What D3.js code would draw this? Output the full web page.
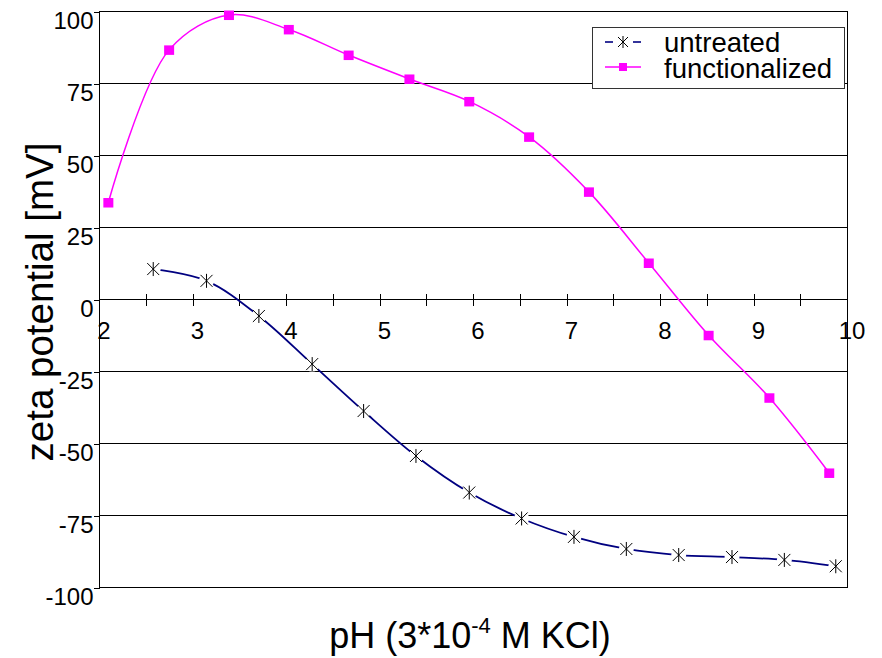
<!DOCTYPE html>
<html>
<head>
<meta charset="utf-8">
<script src="https://cdn.jsdelivr.net/npm/d3@7"></script>
<style>
  html, body { margin: 0; padding: 0; background: #fff; }
  svg { display: block; font-family: "Liberation Sans", Arial, sans-serif; }
</style>
</head>
<body>
<svg id="chart" width="882" height="658"></svg>
<script>
// ---- data ----
const untreatedPH = [2.58, 3.15, 3.71, 4.28, 4.83, 5.39, 5.96, 6.52, 7.08, 7.64, 8.20, 8.77, 9.33, 9.88];
const untreatedZeta = [10.4, 6.3, -5.9, -22.6, -38.9, -54.5, -67.2, -76.2, -82.6, -86.8, -88.9, -89.6, -90.6, -92.8];
const functionalizedPH = [2.10, 2.75, 3.39, 4.03, 4.67, 5.32, 5.96, 6.60, 7.24, 7.88, 8.52, 9.17, 9.81];
const functionalizedZeta = [33.5, 86.5, 98.6, 93.6, 84.7, 76.4, 68.6, 56.3, 37.2, 12.5, -12.6, -34.3, -60.4];
const xTicks = [2, 3, 4, 5, 6, 7, 8, 9, 10];
const xMinorTicks = [2.5, 3, 3.5, 4, 4.5, 5, 5.5, 6, 6.5, 7, 7.5, 8, 8.5, 9, 9.5, 10];
const yTicks = [-100, -75, -50, -25, 0, 25, 50, 75, 100];
const seriesNames = ["untreated", "functionalized"];

// ---- layout ----
const svg = d3.select("#chart");
const L = 99, R = 847, T = 11, B = 587;
const x = d3.scaleLinear().domain([2, 10]).range([L, R]);
const y = d3.scaleLinear().domain([-100, 100]).range([B, T]);
const crisp = v => Math.round(v) + 0.5;

// gridlines
svg.append("g").selectAll("line").data(yTicks.filter(d => d !== -100 && d !== 0)).join("line")
  .attr("x1", L).attr("x2", R).attr("y1", d => crisp(y(d))).attr("y2", d => crisp(y(d)))
  .attr("stroke", "#000").attr("stroke-width", 1).attr("shape-rendering", "crispEdges");

// frame
svg.append("rect").attr("x", crisp(L)).attr("y", crisp(T)).attr("width", Math.round(R - L)).attr("height", Math.round(B - T))
  .attr("fill", "none").attr("stroke", "#000").attr("stroke-width", 1.2).attr("shape-rendering", "crispEdges");

// y axis ticks + labels
const yAxis = d3.axisLeft(y).tickValues(yTicks).tickSize(6).tickFormat(d => String(d));
const gy = svg.append("g").attr("transform", `translate(${crisp(L)},0.5)`).call(yAxis);
gy.select(".domain").remove();
gy.attr("font-family", null).attr("font-size", null);
gy.selectAll(".tick line").attr("stroke", "#000").attr("shape-rendering", "crispEdges");
gy.selectAll(".tick text").attr("font-size", 24).attr("fill", "#000")
  .attr("x", -6).attr("dy", null).attr("y", 17);

// x axis at y=0 with crossing ticks
const zeroY = crisp(y(0));
svg.append("line").attr("x1", L).attr("x2", R).attr("y1", zeroY).attr("y2", zeroY)
  .attr("stroke", "#000").attr("stroke-width", 1.2).attr("shape-rendering", "crispEdges");
svg.append("g").selectAll("line").data(xMinorTicks).join("line")
  .attr("x1", d => crisp(x(d))).attr("x2", d => crisp(x(d)))
  .attr("y1", zeroY - 6).attr("y2", zeroY + 6)
  .attr("stroke", "#000").attr("shape-rendering", "crispEdges");
svg.append("g").selectAll("text").data(xTicks).join("text")
  .attr("x", d => x(d) + 5).attr("y", zeroY + 39.5)
  .attr("text-anchor", "middle").attr("font-size", 24).attr("fill", "#000")
  .text(d => d);

// lines
const line = d3.line().curve(d3.curveCatmullRom.alpha(0.5)).x(d => x(d[0])).y(d => y(d[1]));
const untreated = untreatedPH.map((p, i) => [p, untreatedZeta[i]]);
const functionalized = functionalizedPH.map((p, i) => [p, functionalizedZeta[i]]);

svg.append("path").datum(functionalized).attr("d", line)
  .attr("fill", "none").attr("stroke", "#FF00FF").attr("stroke-width", 1.5);
svg.append("path").datum(untreated).attr("d", line)
  .attr("fill", "none").attr("stroke", "#000080").attr("stroke-width", 1.8);

// asterisk marker
const S = 6, V = 7;
function asteriskPath(cx, cy) {
  return `M${cx},${cy - V}L${cx},${cy + V}M${cx - S},${cy - S}L${cx + S},${cy + S}M${cx - S},${cy + S}L${cx + S},${cy - S}`;
}
const gm = svg.append("g");
untreated.forEach(d => {
  const cx = x(d[0]), cy = y(d[1]);
  gm.append("circle").attr("cx", cx).attr("cy", cy).attr("r", 7.5).attr("fill", "#fff");
  gm.append("path").attr("d", asteriskPath(cx, cy))
    .attr("stroke", "#000").attr("stroke-width", 1).attr("fill", "none");
});

svg.append("g").selectAll("rect").data(functionalized).join("rect")
  .attr("x", d => x(d[0]) - 5).attr("y", d => y(d[1]) - 4.5)
  .attr("width", 10).attr("height", 9.5).attr("fill", "#FF00FF");

// legend
const lg = svg.append("g");
lg.append("rect").attr("x", 592.5).attr("y", 27.5).attr("width", 252).attr("height", 61)
  .attr("fill", "#fff").attr("stroke", "#333").attr("stroke-width", 1);
lg.append("line").attr("x1", 605).attr("x2", 613).attr("y1", 42).attr("y2", 42).attr("stroke", "#000080").attr("stroke-width", 1.6);
lg.append("line").attr("x1", 633).attr("x2", 641).attr("y1", 42).attr("y2", 42).attr("stroke", "#000080").attr("stroke-width", 1.6);
lg.append("path").attr("d", `M623,36L623,48M618,37L628,47M618,47L628,37`)
  .attr("stroke", "#000").attr("stroke-width", 1);
lg.append("line").attr("x1", 605).attr("x2", 641).attr("y1", 67).attr("y2", 67).attr("stroke", "#FF00FF").attr("stroke-width", 1.5);
lg.append("rect").attr("x", 619).attr("y", 63).attr("width", 8).attr("height", 8).attr("fill", "#FF00FF");
lg.selectAll("text.leg").data(seriesNames).join("text").attr("class", "leg")
  .attr("x", 664).attr("y", (d, i) => 52 + i * 26)
  .attr("font-size", 27.5).attr("fill", "#000").text(d => d);

// axis titles
svg.append("text").attr("transform", "translate(53,302) rotate(-90)")
  .attr("text-anchor", "middle").attr("font-size", 38.5).attr("fill", "#000")
  .text("zeta potential [mV]");
const xt = svg.append("text").attr("x", 470).attr("y", 648)
  .attr("text-anchor", "middle").attr("font-size", 36).attr("fill", "#000");
xt.append("tspan").text("pH (3*10");
xt.append("tspan").attr("font-size", 22).attr("dy", -15).text("-4");
xt.append("tspan").attr("dy", 15).text(" M KCl)");
</script>
</body>
</html>
